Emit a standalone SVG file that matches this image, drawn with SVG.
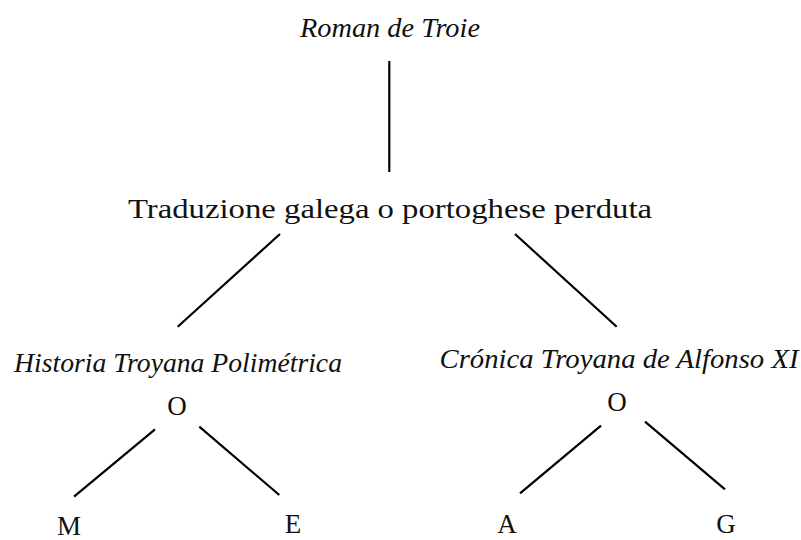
<svg xmlns="http://www.w3.org/2000/svg" width="801" height="540" viewBox="0 0 801 540">
<style>
text{font-family:"Liberation Serif","Times New Roman",serif;font-size:27px;fill:#111;text-anchor:middle}
.i{font-style:italic}
.c line{stroke:#000;stroke-width:2.2;stroke-linecap:butt}
</style>
<rect width="801" height="540" fill="#fff"/>
<g class="c" id="connectors">
<line x1="389.3" y1="61" x2="389.3" y2="172"/>
<line x1="280" y1="234" x2="177.7" y2="326.7"/>
<line x1="515" y1="234" x2="616.7" y2="326.7"/>
<line x1="155" y1="429.3" x2="74" y2="496.7"/>
<line x1="199.3" y1="426.7" x2="279.3" y2="495"/>
<line x1="601" y1="425.7" x2="520" y2="493.3"/>
<line x1="645" y1="421.7" x2="725" y2="489.3"/>
</g>
<g id="roman"><text class="i" x="390" y="37" textLength="180" lengthAdjust="spacingAndGlyphs">Roman de Troie</text></g>
<g id="traduzione"><text x="390" y="218" textLength="524" lengthAdjust="spacingAndGlyphs">Traduzione galega o portoghese perduta</text></g>
<g id="historia"><text class="i" x="178" y="372" textLength="328" lengthAdjust="spacingAndGlyphs">Historia Troyana Polimétrica</text></g>
<g id="o1"><text x="177" y="415">O</text></g>
<g id="cronica"><text class="i" x="619" y="368" textLength="359" lengthAdjust="spacingAndGlyphs">Crónica Troyana de Alfonso XI</text></g>
<g id="o2"><text x="617" y="411">O</text></g>
<g id="m"><text x="69" y="535">M</text></g>
<g id="e"><text x="293" y="533">E</text></g>
<g id="a"><text x="507" y="533">A</text></g>
<g id="g"><text x="726" y="533">G</text></g>
</svg>
